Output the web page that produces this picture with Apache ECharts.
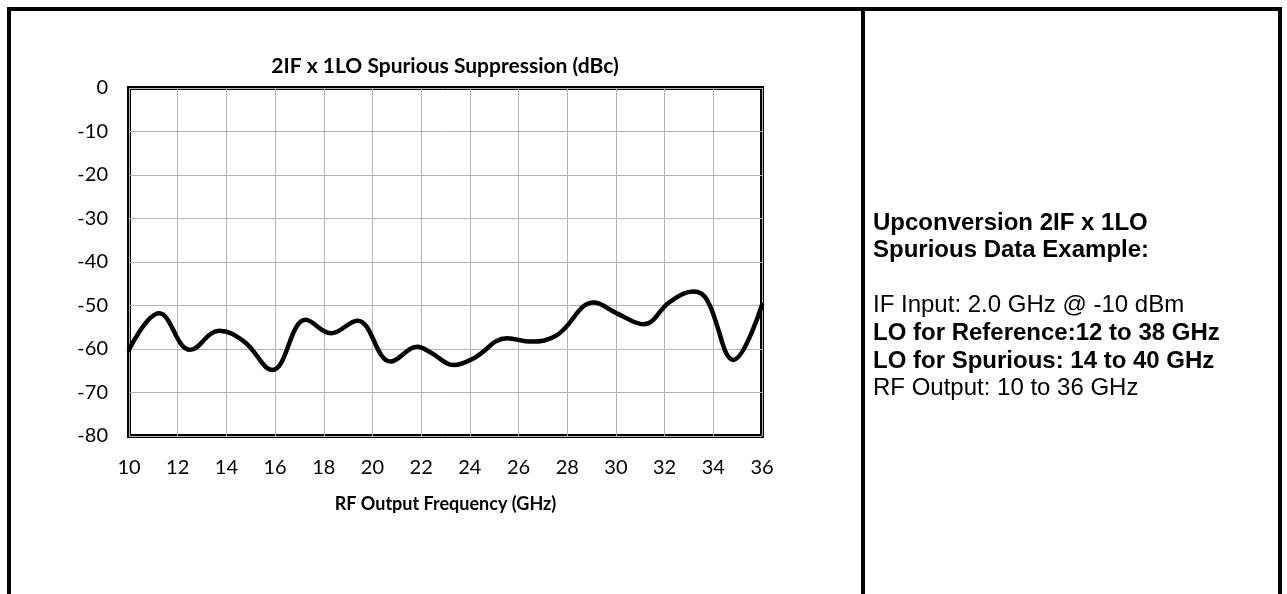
<!DOCTYPE html>
<html>
<head>
<meta charset="utf-8">
<script src="https://cdn.jsdelivr.net/npm/echarts@6/dist/echarts.min.js"></script>
<style>
  html, body { margin: 0; padding: 0; background: #fff; }
  #chart { width: 1287px; height: 594px; }
</style>
</head>
<body>
<div id="chart"></div>
<script>
// ---- data ----
const chartTitle = '2IF x 1LO Spurious Suppression (dBc)';
const xAxisName = 'RF Output Frequency (GHz)';
const xTicks = [10, 12, 14, 16, 18, 20, 22, 24, 26, 28, 30, 32, 34, 36];
const yTicks = [0, -10, -20, -30, -40, -50, -60, -70, -80];
const freqGHz = [10, 11.24, 12.51, 13.70, 14.73, 15.89, 17.26, 18.29, 19.38, 20.75, 21.84, 22.39, 23.34, 24.16, 25.53, 26.49, 27.58, 29.09, 30.04, 31.14, 32.23, 33.19, 33.74, 34.83, 36];
const suppressionDbc = [-60.2, -51.8, -60.2, -55.8, -58.3, -64.8, -53.3, -56.4, -53.5, -62.9, -59.5, -60.8, -63.7, -62.1, -57.5, -58.3, -56.8, -49.3, -51.8, -54.3, -49.1, -46.8, -48.7, -62.5, -49.9];
const noteTitleLines = ['Upconversion 2IF x 1LO', 'Spurious Data Example:'];
const noteLines = [
  { text: 'IF Input: 2.0 GHz @ -10 dBm', bold: false },
  { text: 'LO for Reference:12 to 38 GHz', bold: true },
  { text: 'LO for Spurious: 14 to 40 GHz', bold: true },
  { text: 'RF Output: 10 to 36 GHz', bold: false }
];

const seriesData = freqGHz.map((f, i) => [f, suppressionDbc[i]]);

const chart = echarts.init(document.getElementById('chart'), null, { renderer: 'canvas' });

const graphics = [];
// table frame
const frameStyle = { stroke: '#000', lineWidth: 4 };
graphics.push({ type: 'line', shape: { x1: 7, y1: 9, x2: 1282, y2: 9 }, style: frameStyle, silent: true });
graphics.push({ type: 'line', shape: { x1: 9, y1: 7, x2: 9, y2: 594 }, style: frameStyle, silent: true });
graphics.push({ type: 'line', shape: { x1: 863, y1: 7, x2: 863, y2: 594 }, style: frameStyle, silent: true });
graphics.push({ type: 'line', shape: { x1: 1280, y1: 7, x2: 1280, y2: 594 }, style: frameStyle, silent: true });
// chart title
graphics.push({
  type: 'text', x: 445, y: 66,
  style: { text: chartTitle, fill: '#000', font: 'bold 21px Lato', textAlign: 'center', textVerticalAlign: 'middle' },
  silent: true
});
// note text
const lineH = 27.6;
let y0 = 223;
noteTitleLines.forEach((t, i) => {
  graphics.push({
    type: 'text', x: 873, y: y0 + i * lineH,
    style: { text: t, fill: '#000', font: 'bold 24px "Liberation Sans", Arial', textAlign: 'left', textVerticalAlign: 'middle' },
    silent: true
  });
});
noteLines.forEach((l, i) => {
  graphics.push({
    type: 'text', x: 873, y: y0 + (i + 3) * lineH,
    style: { text: l.text, fill: '#000', font: (l.bold ? 'bold ' : '') + '24px "Liberation Sans", Arial', textAlign: 'left', textVerticalAlign: 'middle' },
    silent: true
  });
});

chart.setOption({
  backgroundColor: '#fff',
  animation: false,
  grid: {
    left: 129, top: 88, width: 633, height: 348,
    show: true, borderColor: '#000', borderWidth: 4, backgroundColor: 'transparent'
  },
  xAxis: {
    type: 'value', min: xTicks[0], max: xTicks[xTicks.length - 1], interval: 2,
    name: xAxisName, nameLocation: 'middle', nameGap: 59,
    nameTextStyle: { color: '#000', fontFamily: 'Lato', fontWeight: 'bold', fontSize: 18 },
    axisLine: { show: false }, axisTick: { show: false },
    axisLabel: { color: '#000', fontFamily: 'Lato', fontSize: 20, margin: 22 },
    splitLine: { show: true, lineStyle: { color: '#b4b4b4', width: 1 } }
  },
  yAxis: {
    type: 'value', min: yTicks[yTicks.length - 1], max: yTicks[0], interval: 10,
    axisLine: { show: false }, axisTick: { show: false },
    axisLabel: { color: '#000', fontFamily: 'Lato', fontSize: 20, margin: 21 },
    splitLine: { show: true, lineStyle: { color: '#b4b4b4', width: 1 } }
  },
  series: [{
    type: 'line',
    data: seriesData,
    smooth: 0.4,
    showSymbol: false,
    symbol: 'none',
    lineStyle: { color: '#000', width: 4.5, cap: 'round', join: 'round' },
    clip: true
  }],
  graphic: graphics
});
</script>
</body>
</html>
